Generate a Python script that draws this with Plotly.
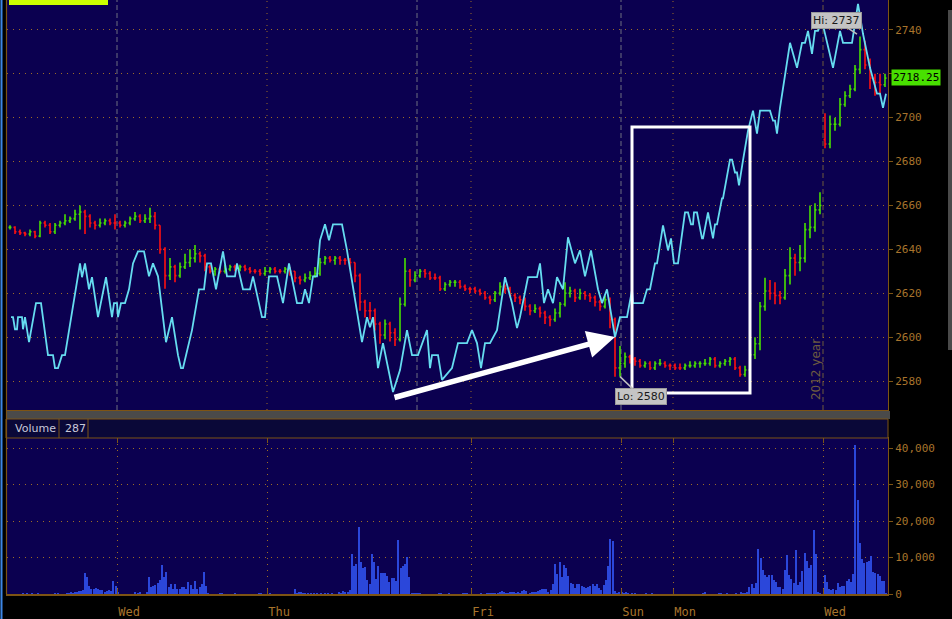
import plotly.graph_objects as go

# ---------------- data ----------------
# price bars (one every 5 time units, starting at 10)
bar_t = list(range(10, 890, 5))
bar_open = [
    2650, 2650, 2648, 2647.5, 2647, 2648, 2646, 2652, 2651, 2648,
    2651, 2652, 2653, 2654, 2656, 2657, 2655, 2652, 2651, 2652,
    2653, 2652, 2652, 2651, 2652, 2654, 2655, 2653, 2654, 2655,
    2651, 2640, 2628, 2632, 2628, 2632, 2634, 2636, 2638, 2637,
    2632, 2630, 2631, 2630, 2631, 2632, 2631, 2632, 2631, 2630,
    2630, 2629, 2630, 2631, 2630, 2630, 2631, 2630, 2627, 2626,
    2627, 2628, 2629, 2634, 2636, 2635, 2636, 2635, 2635, 2634,
    2628, 2616, 2612, 2612, 2606, 2601, 2606, 2602, 2599, 2615,
    2630, 2626, 2628, 2630, 2629, 2627, 2627, 2622, 2624, 2625,
    2625, 2623, 2622, 2622, 2621, 2620, 2618, 2617, 2620, 2623,
    2622, 2619, 2618, 2617, 2614, 2612, 2613, 2611, 2609, 2608,
    2611, 2615, 2620, 2621, 2618, 2620, 2619, 2618, 2616, 2614,
    2617, 2608, 2586, 2588, 2591, 2590, 2589, 2587, 2588, 2586,
    2588, 2588, 2587, 2587, 2586, 2586, 2587, 2587, 2588, 2588,
    2588, 2590, 2587, 2588, 2589, 2590, 2586, 2583, 2585, 2592,
    2597, 2614, 2621, 2620, 2619, 2618, 2628, 2636, 2634, 2636,
    2649, 2650, 2658, 2690, 2688, 2697, 2697, 2706, 2710, 2713,
    2722, 2731, 2724, 2718, 2716, 2715,
]
bar_high = [
    2651, 2650.5, 2649, 2648, 2649, 2648.5, 2653, 2653, 2652, 2652,
    2653, 2656, 2655, 2658, 2660, 2658, 2656, 2653, 2654, 2654,
    2654, 2656, 2653, 2653, 2655, 2657, 2656, 2656, 2659, 2657,
    2651, 2641, 2636, 2633, 2634, 2638, 2640, 2642, 2639, 2638,
    2633, 2632, 2632, 2633, 2633, 2633, 2633, 2633, 2632, 2631,
    2631, 2632, 2632, 2632, 2631, 2632, 2632, 2630, 2628, 2629,
    2630, 2632, 2636, 2637, 2637, 2637, 2637, 2636, 2636, 2634,
    2629, 2617, 2616, 2613, 2607, 2608, 2607, 2604, 2618, 2636,
    2631, 2630, 2631, 2631, 2630, 2629, 2628, 2625, 2626, 2626,
    2626, 2624, 2623, 2623, 2622, 2621, 2619, 2621, 2625, 2624,
    2623, 2620, 2619, 2618, 2615, 2615, 2614, 2612, 2610, 2613,
    2616, 2625, 2623, 2622, 2622, 2621, 2620, 2619, 2617, 2619,
    2618, 2609, 2596, 2593, 2592, 2591, 2590, 2589, 2589, 2589,
    2590, 2589, 2588, 2588, 2588, 2588, 2589, 2589, 2589, 2590,
    2591, 2591, 2589, 2590, 2591, 2591, 2587, 2587, 2594, 2600,
    2616, 2627, 2626, 2625, 2621, 2631, 2641, 2638, 2642, 2652,
    2660, 2661, 2666, 2702, 2701, 2700, 2709, 2712, 2715, 2724,
    2737, 2735, 2727, 2720, 2720, 2720,
]
bar_low = [
    2649, 2647, 2646.5, 2646, 2646, 2645, 2645.5, 2650, 2647, 2647,
    2650, 2651, 2652, 2653, 2649, 2647, 2650, 2649, 2650, 2651,
    2651, 2649, 2650, 2650, 2651, 2653, 2652, 2652, 2652, 2649,
    2638, 2622, 2626, 2625, 2627, 2631, 2632, 2634, 2634, 2630,
    2629, 2628, 2629, 2629, 2630, 2630, 2630, 2630, 2629, 2629,
    2628, 2628, 2629, 2629, 2629, 2629, 2628, 2625, 2624, 2625,
    2626, 2627, 2628, 2633, 2634, 2633, 2633, 2633, 2631, 2625,
    2612, 2609, 2608, 2603, 2597, 2599, 2598, 2596, 2598, 2614,
    2623, 2625, 2627, 2627, 2626, 2626, 2621, 2621, 2623, 2623,
    2622, 2621, 2620, 2620, 2619, 2617, 2615, 2616, 2619, 2620,
    2618, 2616, 2615, 2612, 2610, 2611, 2609, 2606, 2605, 2607,
    2609, 2614, 2618, 2616, 2617, 2617, 2616, 2614, 2612, 2613,
    2604, 2582, 2582, 2586, 2588, 2587, 2586, 2586, 2585, 2585,
    2587, 2586, 2585, 2585, 2585, 2585, 2586, 2586, 2586, 2587,
    2587, 2586, 2586, 2587, 2587, 2585, 2582, 2582, 2584, 2590,
    2594, 2612, 2617, 2615, 2615, 2617, 2624, 2628, 2630, 2634,
    2645, 2648, 2656, 2686, 2686, 2694, 2696, 2705, 2709, 2712,
    2720, 2722, 2713, 2710, 2711, 2714,
]
bar_close = [
    2650, 2648, 2647.5, 2647, 2648, 2646, 2652, 2651, 2648, 2651,
    2652, 2653, 2654, 2656, 2657, 2655, 2652, 2651, 2652, 2653,
    2652, 2652, 2651, 2652, 2654, 2655, 2653, 2654, 2655, 2651,
    2640, 2628, 2632, 2628, 2632, 2634, 2636, 2638, 2637, 2632,
    2630, 2631, 2630, 2631, 2632, 2631, 2632, 2631, 2630, 2630,
    2629, 2630, 2631, 2630, 2630, 2631, 2630, 2627, 2626, 2627,
    2628, 2629, 2634, 2636, 2635, 2636, 2635, 2635, 2634, 2628,
    2616, 2612, 2612, 2606, 2601, 2606, 2602, 2599, 2615, 2630,
    2626, 2628, 2630, 2629, 2627, 2627, 2622, 2624, 2625, 2625,
    2623, 2622, 2622, 2621, 2620, 2618, 2617, 2620, 2623, 2622,
    2619, 2618, 2617, 2614, 2612, 2613, 2611, 2609, 2608, 2611,
    2615, 2620, 2621, 2618, 2620, 2619, 2618, 2616, 2614, 2617,
    2608, 2586, 2588, 2591, 2590, 2589, 2587, 2588, 2586, 2588,
    2588, 2587, 2587, 2586, 2586, 2587, 2587, 2588, 2588, 2588,
    2590, 2587, 2588, 2589, 2590, 2586, 2583, 2585, 2592, 2597,
    2614, 2621, 2620, 2619, 2618, 2628, 2636, 2634, 2636, 2649,
    2650, 2658, 2660, 2688, 2697, 2697, 2706, 2710, 2713, 2722,
    2731, 2724, 2718, 2716, 2715, 2718,
]

# comparison indicator (cyan line)
cyan_t = [11, 13, 15, 17, 18, 22, 23, 25, 29, 36, 41, 48, 53, 55, 58, 62, 65, 80, 82, 85,
          89, 92, 98, 106, 112, 114, 117, 118, 121, 125, 129, 133, 138, 144, 149, 153, 158, 166, 172, 178,
          181, 183, 192, 199, 204, 207, 211, 216, 223, 227, 235, 237, 243, 250, 253, 262, 265, 269, 277, 283,
          289, 297, 302, 305, 309, 313, 317, 320, 325, 329, 333, 342, 347, 355, 362, 367, 370, 373, 378, 383,
          393, 400, 407, 412, 418, 427, 430, 432, 438, 442, 452, 458, 467, 472, 477, 481, 485, 490, 497, 505,
          512, 517, 520, 528, 537, 540, 544, 548, 553, 557, 563, 568, 575, 580, 585, 591, 598, 602, 607, 615,
          620, 627, 632, 633, 643, 647, 650, 655, 657, 663, 668, 671, 674, 678, 685, 688, 691, 693, 694, 697,
          702, 703, 708, 713, 715, 717, 722, 723, 730, 732, 735, 737, 739, 743, 748, 753, 757, 760, 770, 773,
          775, 777, 780, 790, 797, 802, 805, 808, 812, 815, 818, 822, 833, 840, 843, 852, 858, 863, 870, 877,
          880, 883, 886]
cyan_v = [2609.1, 2609.1, 2603.6, 2603.6, 2609.1, 2609.1, 2603.6, 2609.1, 2597.7, 2615.5, 2615.5, 2591.8, 2591.8, 2585.9, 2585.9, 2591.8, 2591.8, 2633.6, 2627.3, 2633.6,
          2621.8, 2627.3, 2609.1, 2627.3, 2609.1, 2615.5, 2615.5, 2609.1, 2615.5, 2615.5, 2621.8, 2633.6, 2639.1, 2639.1, 2627.7, 2633.6, 2627.7, 2597.7, 2609.1, 2591.8,
          2585.9, 2585.9, 2603.2, 2621.8, 2621.8, 2633.6, 2633.6, 2621.8, 2639.1, 2627.7, 2627.7, 2633.6, 2621.8, 2621.8, 2627.7, 2609.1, 2609.1, 2627.7, 2627.7, 2615.5,
          2633.6, 2615.5, 2615.5, 2621.8, 2615.5, 2627.7, 2627.7, 2644.1, 2651.4, 2644.1, 2651.4, 2651.4, 2639.5, 2616.8, 2597.7, 2609.1, 2604.5, 2609.1, 2585.9, 2597.3,
          2575.0, 2585.0, 2603.2, 2591.8, 2591.8, 2603.2, 2585.9, 2591.8, 2591.8, 2580.5, 2585.9, 2597.3, 2597.3, 2603.2, 2597.3, 2585.9, 2597.3, 2597.3, 2603.2, 2627.3,
          2615.5, 2604.1, 2609.1, 2627.3, 2627.3, 2633.6, 2615.5, 2621.8, 2615.5, 2627.3, 2621.8, 2645.5, 2633.6, 2639.5, 2627.7, 2639.5, 2621.8, 2615.5, 2621.8, 2600.0,
          2609.1, 2609.1, 2621.4, 2615.5, 2615.5, 2621.8, 2621.8, 2633.6, 2633.6, 2650.9, 2639.5, 2645.0, 2633.6, 2633.6, 2656.8, 2656.8, 2651.4, 2651.4, 2656.8, 2656.8,
          2645.0, 2645.0, 2656.8, 2645.0, 2651.4, 2651.4, 2663.2, 2663.2, 2680.9, 2680.9, 2675.0, 2675.0, 2669.1, 2680.5, 2694.1, 2703.2, 2692.7, 2703.2, 2703.2, 2698.6,
          2698.6, 2692.7, 2704.5, 2734.1, 2722.7, 2734.1, 2734.1, 2739.5, 2729.1, 2739.5, 2739.5, 2744.1, 2722.7, 2739.5, 2734.1, 2734.1, 2751.8, 2738.2, 2722.7, 2710.9,
          2710.9, 2704.5, 2710.9]

# volume
vol_t = [23, 27, 32, 38, 55, 58, 67, 69, 71, 73, 75, 77, 79, 81, 83, 85, 87, 89, 91, 94,
         96, 98, 100, 102, 105, 107, 109, 111, 113, 116, 118, 135, 138, 140, 147, 149, 151, 153, 155, 158,
         160, 162, 164, 166, 169, 171, 173, 175, 177, 180, 182, 184, 186, 188, 191, 193, 195, 197, 200, 202,
         204, 206, 208, 220, 222, 235, 259, 261, 270, 295, 297, 299, 301, 303, 305, 308, 311, 314, 317, 321,
         325, 328, 332, 339, 341, 343, 345, 348, 350, 352, 354, 356, 359, 361, 363, 365, 367, 370, 372, 374,
         376, 378, 381, 383, 385, 387, 389, 392, 394, 396, 398, 401, 403, 405, 407, 409, 412, 414, 416, 418,
         420, 439, 441, 449, 463, 465, 467, 481, 487, 489, 491, 493, 495, 498, 500, 502, 504, 506, 508, 510,
         512, 514, 516, 518, 520, 522, 524, 526, 530, 532, 534, 536, 538, 540, 542, 544, 546, 548, 551, 553,
         555, 557, 560, 562, 564, 566, 568, 571, 573, 575, 577, 579, 582, 584, 586, 588, 590, 593, 595, 597,
         599, 601, 604, 606, 608, 610, 613, 615, 617, 619, 622, 624, 626, 628, 632, 635, 646, 652, 703, 705,
         719, 721, 727, 736, 741, 743, 745, 747, 749, 752, 754, 756, 758, 761, 763, 765, 767, 769, 772, 774,
         776, 778, 780, 783, 785, 787, 789, 791, 794, 796, 798, 800, 802, 805, 807, 809, 811, 814, 816, 818,
         820, 825, 827, 829, 831, 833, 836, 838, 840, 842, 844, 847, 849, 851, 853, 855, 858, 860, 862, 864,
         867, 869, 871, 873, 875, 878, 880, 882, 884, 886]
vol_v = [300, 300, 300, 300, 300, 300, 300, 400, 600, 300, 500, 600, 700, 800, 1100, 5750, 4650, 2200, 1300, 1400,
         1650, 1400, 1100, 1000, 650, 900, 1100, 800, 3550, 2200, 550, 550, 300, 550, 550, 4650, 1900, 2200, 2450, 2900,
         3750, 7950, 4650, 6000, 1900, 2750, 1400, 2750, 1400, 1400, 1900, 1900, 1400, 3300, 2450, 1400, 3550, 1400, 1900, 2750,
         6000, 2200, 300, 300, 300, 300, 300, 300, 300, 1400, 300, 550, 550, 400, 300, 300, 300, 300, 300, 300,
         300, 250, 300, 500, 400, 700, 500, 600, 1200, 11000, 7600, 8300, 18300, 8900, 7100, 7400, 3900, 2800, 11000, 8900,
         4100, 7800, 5800, 5800, 5800, 5000, 3400, 4500, 4500, 3700, 14900, 7200, 7600, 8300, 10100, 4700, 300, 300, 400, 300,
         300, 300, 300, 300, 300, 300, 300, 300, 300, 300, 300, 300, 300, 300, 500, 700, 600, 400, 300, 600,
         600, 500, 300, 500, 400, 700, 1200, 800, 300, 500, 500, 500, 800, 1000, 1400, 1400, 1300, 600, 1200, 2800,
         8300, 5600, 8900, 4700, 8000, 7200, 5000, 3100, 2800, 1700, 2800, 2800, 2300, 2000, 1700, 2000, 2300, 2800, 2300, 2800,
         1700, 1200, 2600, 3900, 7800, 15200, 14600, 900, 400, 600, 600, 300, 600, 300, 300, 300, 300, 300, 400, 600,
         300, 300, 300, 300, 600, 300, 300, 600, 2000, 2800, 1700, 3100, 12400, 10000, 6700, 5300, 4700, 5300, 5300, 3900,
         3400, 2000, 2000, 1400, 6600, 10700, 5200, 4100, 3000, 12100, 2500, 3300, 6300, 11200, 9000, 7100, 7900, 17500, 11000, 500,
         300, 5200, 3300, 1400, 1100, 1400, 1100, 3000, 1900, 2200, 2200, 3600, 4100, 3300, 5500, 40800, 25700, 13900, 9600, 8500,
         8800, 9000, 10400, 6000, 5800, 5500, 4900, 3600, 3600, 300]

price_ticks = [2580, 2600, 2620, 2640, 2660, 2680, 2700, 2720, 2740]
price_tick_text = ["2580", "2600", "2620", "2640", "2660", "2680", "2700", "", "2740"]  # 2720 sits under the last-price tag
vol_ticks = [0, 10000, 20000, 30000, 40000]
vol_tick_text = ["0", "10,000", "20,000", "30,000", "40,000"]
day_t = [117, 267, 471, 621, 673, 823]
day_labels = ["Wed", "Thu", "Fri", "Sun", "Mon", "Wed"]
session_t = [117, 417, 621]          # gray dashed session breaks in price pane
day_dot_t = [267, 471, 673]          # dotted day lines in price pane
year_t = 823
last_price = 2718.25
hi_price = 2737
lo_price = 2580
last_volume = 287

# ---------------- styling / layout ----------------
W, H = 952, 619
BROWN = "#9c6b26"
AXIS = "#7d5414"
BG = "#0b0050"
LABEL_FONT = dict(family="DejaVu Sans Mono", size=11, color="#a8742c")


def py(p):
    return 1 - p / H


def pxr(p):
    return p / W


X0, X1 = 7, 888
P_TOP, P_BOT = 0, 410
V_TOP, V_BOT = 438, 594
X_RANGE = [7, 888]
Y_RANGE = [2566.8, 2753.6]
V_RANGE = [0, 42740]

fig = go.Figure()

fig.add_trace(go.Bar(
    x=vol_t, y=vol_v, xaxis="x2", yaxis="y2",
    marker=dict(color="#2b47da", line=dict(width=0)), width=1.1,
    showlegend=False, hoverinfo="skip"))

fig.add_trace(go.Ohlc(
    x=bar_t, open=bar_open, high=bar_high, low=bar_low, close=bar_close,
    increasing=dict(line=dict(color="#48e000", width=1.6)),
    decreasing=dict(line=dict(color="#ff1010", width=1.6)),
    tickwidth=0.3, showlegend=False, hoverinfo="skip"))

fig.add_trace(go.Scatter(
    x=cyan_t, y=cyan_v, mode="lines",
    line=dict(color="#66dcf0", width=1.8),
    showlegend=False, hoverinfo="skip"))

shapes = []
for t in session_t:
    shapes.append(dict(type="line", xref="x", yref="y domain", x0=t, x1=t, y0=0, y1=1,
                       line=dict(color="#6f6f80", width=1, dash="5px,3px"), layer="below"))
for t in day_dot_t:
    shapes.append(dict(type="line", xref="x", yref="y domain", x0=t, x1=t, y0=0, y1=1,
                       line=dict(color=BROWN, width=1, dash="1px,5px"), layer="below"))
shapes.append(dict(type="line", xref="x", yref="y domain", x0=year_t, x1=year_t, y0=0, y1=1,
                   line=dict(color="#6e5a3c", width=1, dash="5px,3px"), layer="below"))

shapes.append(dict(type="rect", xref="x", yref="y", x0=632, x1=750, y0=2574.6, y1=2695.7,
                   line=dict(color="white", width=3)))
shapes.append(dict(type="rect", xref="paper", yref="paper", x0=pxr(X0), x1=pxr(X1 + 2),
                   y0=py(419), y1=py(411), fillcolor="#4a4a4a", line=dict(width=0)))
shapes.append(dict(type="rect", xref="paper", yref="paper", x0=pxr(X0 - 1), x1=pxr(X1),
                   y0=py(438), y1=py(419), fillcolor="#0a0838", line=dict(color=AXIS, width=1)))
for xs in (59, 88):
    shapes.append(dict(type="line", xref="paper", yref="paper", x0=pxr(xs), x1=pxr(xs),
                       y0=py(438), y1=py(419), line=dict(color=AXIS, width=1)))
shapes.append(dict(type="line", xref="paper", yref="paper", x0=pxr(1.5), x1=pxr(1.5), y0=0, y1=1,
                   line=dict(color="#3d86e6", width=2)))
shapes.append(dict(type="line", xref="paper", yref="paper", x0=pxr(6.5), x1=pxr(6.5), y0=py(594), y1=1,
                   line=dict(color=AXIS, width=1.2)))
shapes.append(dict(type="rect", xref="paper", yref="paper", x0=pxr(948), x1=1, y0=py(350), y1=py(10),
                   fillcolor="#4a4a4a", line=dict(width=0)))
shapes.append(dict(type="rect", xref="paper", yref="paper", x0=pxr(9), x1=pxr(108), y0=py(5), y1=1,
                   fillcolor="#ccff00", line=dict(width=0)))

annotations = [
    dict(x=615, y=2600.1, ax=393, ay=2572.3, xref="x", yref="y", axref="x", ayref="y",
         showarrow=True, arrowhead=2, arrowsize=1.0, arrowwidth=5.5, arrowcolor="white",
         text="", standoff=0),
    dict(x=pxr(891), y=last_price, xref="paper", yref="y", xanchor="left", yanchor="middle",
         text=f"{last_price:.2f}", showarrow=False, bgcolor="#48e000", borderpad=1,
         font=dict(family="DejaVu Sans Mono", size=11, color="#000000")),
    dict(x=857, y=hi_price + 1, xref="x", yref="y", ax=-21, ay=-14,
         text=f"Hi: {hi_price}", showarrow=True, arrowhead=0, arrowwidth=1.5, arrowcolor="#bdbdbd",
         bgcolor="#c4c4c4", bordercolor="#9a9a9a", borderpad=1,
         font=dict(family="DejaVu Sans", size=11, color="#1a1a1a")),
    dict(x=620, y=lo_price + 2, xref="x", yref="y", ax=21, ay=20,
         text=f"Lo: {lo_price}", showarrow=True, arrowhead=0, arrowwidth=1.5, arrowcolor="#bdbdbd",
         bgcolor="#c4c4c4", bordercolor="#9a9a9a", borderpad=1,
         font=dict(family="DejaVu Sans", size=11, color="#1a1a1a")),
    dict(x=816, y=2585, xref="x", yref="y", text="2012 year", textangle=-90, showarrow=False,
         font=dict(family="DejaVu Sans", size=12, color="#6e5c40")),
    dict(x=pxr(13), y=py(428.5), xref="paper", yref="paper", xanchor="left", yanchor="middle",
         text="Volume", showarrow=False, font=dict(family="DejaVu Sans", size=11, color="#c8c8d8")),
    dict(x=pxr(63), y=py(428.5), xref="paper", yref="paper", xanchor="left", yanchor="middle",
         text=str(last_volume), showarrow=False, font=dict(family="DejaVu Sans", size=11, color="#c8c8d8")),
]

fig.update_layout(
    width=W, height=H, margin=dict(l=0, r=0, t=0, b=0, autoexpand=False),
    paper_bgcolor="#000000", plot_bgcolor=BG,
    showlegend=False, bargap=0, hovermode=False,
    shapes=shapes, annotations=annotations,
    xaxis=dict(domain=[pxr(X0), pxr(X1)], range=X_RANGE, anchor="y",
               showgrid=False, zeroline=False, showticklabels=False, ticks="",
               showline=True, linecolor=AXIS, linewidth=1, rangeslider=dict(visible=False)),
    yaxis=dict(domain=[py(P_BOT), py(P_TOP)], range=Y_RANGE, side="right", anchor="x",
               tickvals=price_ticks, ticktext=price_tick_text, ticks="outside", ticklen=4, tickcolor=AXIS,
               tickfont=LABEL_FONT, showgrid=True, gridcolor=BROWN, griddash="1px,5px", gridwidth=1,
               zeroline=False, showline=True, linecolor=AXIS, linewidth=1, mirror=True),
    xaxis2=dict(domain=[pxr(X0), pxr(X1)], range=X_RANGE, anchor="y2",
                tickvals=day_t, ticktext=day_labels, ticks="inside", ticklen=5, tickcolor=AXIS,
                ticklabelposition="outside right", ticklabelstandoff=6,
                tickfont=dict(family="DejaVu Sans Mono", size=12, color="#a8742c"),
                showgrid=True, gridcolor=BROWN, griddash="1px,5px", gridwidth=1,
                zeroline=False, showline=True, linecolor=AXIS, linewidth=1.5, mirror="allticks"),
    yaxis2=dict(domain=[py(V_BOT), py(V_TOP)], range=V_RANGE, side="right", anchor="x2",
                tickvals=vol_ticks, ticktext=vol_tick_text, ticks="outside", ticklen=4, tickcolor=AXIS,
                tickfont=LABEL_FONT, showgrid=True, gridcolor=BROWN, griddash="1px,5px", gridwidth=1,
                zeroline=False, showline=True, linecolor=AXIS, linewidth=1, mirror=True),
)

fig.write_html("out.html", config={"displayModeBar": False, "staticPlot": True},
               post_script="document.body.style.margin='0';document.body.style.padding='0';"
                           "document.body.style.background='#000';")
